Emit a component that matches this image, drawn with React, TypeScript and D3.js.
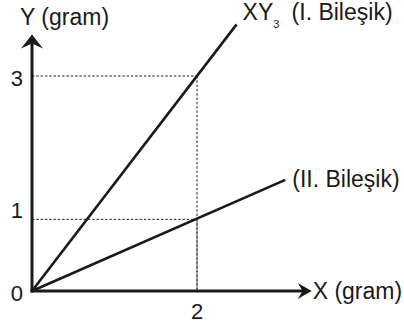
import React from "react";
import * as d3 from "d3";

// Değerler
const xTicks = [0, 2];
const yTicks = [0, 1, 3];
const compoundI = [
  { x: 0, y: 0 },
  { x: 2.48, y: 3.72 },
];
const compoundII = [
  { x: 0, y: 0 },
  { x: 3.07, y: 1.55 },
];
const guides = [
  { x: 2, y: 3 },
  { x: 2, y: 1 },
];
const axisEnd = { x: 3.39, y: 3.58 };

const width = 404;
const height = 327;
const font = "'Liberation Sans', Arial, Helvetica, sans-serif";
const ink = "#1a1a1a";

const App = () => {
  // Ölçekler
  const xScale = d3.scaleLinear().domain([0, 2]).range([32, 197]);
  const yScale = d3.scaleLinear().domain([0, 3]).range([291, 76]);

  const line = d3
    .line<{ x: number; y: number }>()
    .x((d) => xScale(d.x))
    .y((d) => yScale(d.y));

  const x0 = xScale(0);
  const y0 = yScale(0);
  const xTip = xScale(axisEnd.x);
  const yTip = yScale(axisEnd.y);

  // Ok başları
  const yArrow = `M${x0},${yTip} L${x0 + 11},${yTip + 14} L${x0},${yTip + 9} L${x0 - 11},${yTip + 14} Z`;
  const xArrow = `M${xTip},${y0} L${xTip - 14},${y0 - 8} L${xTip - 9},${y0} L${xTip - 14},${y0 + 8} Z`;

  const iEnd = compoundI[compoundI.length - 1];
  const iiEnd = compoundII[compoundII.length - 1];
  const iX = xScale(iEnd.x) + 6;
  const iY = yScale(iEnd.y) - 4;

  return (
    <svg
      width={width}
      height={height}
      style={{ position: "absolute", left: 0, top: 0, background: "#fff" }}
      fontFamily={font}
    >
      {/* Kesikli yardımcı çizgiler */}
      {guides.map((g, i) => (
        <g key={i} stroke="#222" strokeWidth={1} strokeDasharray="2.5,1.8">
          <line x1={x0} x2={xScale(g.x)} y1={yScale(g.y)} y2={yScale(g.y)} />
          <line x1={xScale(g.x)} x2={xScale(g.x)} y1={yScale(g.y)} y2={y0} />
        </g>
      ))}

      {/* Eksenler */}
      <line x1={x0} x2={x0} y1={y0 + 1.5} y2={yTip + 8} stroke={ink} strokeWidth={3} />
      <line x1={x0 - 1.5} x2={xTip - 8} y1={y0} y2={y0} stroke={ink} strokeWidth={3} />
      <path d={yArrow} fill={ink} />
      <path d={xArrow} fill={ink} />

      {/* Bileşik doğruları */}
      <path d={line(compoundI) || ""} fill="none" stroke={ink} strokeWidth={2.6} />
      <path d={line(compoundII) || ""} fill="none" stroke={ink} strokeWidth={2.6} />

      {/* Tik etiketleri */}
      {yTicks.map((t) => (
        <text
          key={"y" + t}
          x={x0 - 9}
          y={t === 0 ? y0 + 10 : t === 1 ? yScale(t) - 1 : yScale(t) + 10}
          textAnchor="end"
          fontSize={22}
          fill={ink}
        >
          {t}
        </text>
      ))}
      {xTicks
        .filter((t) => t !== 0)
        .map((t) => (
          <text key={"x" + t} x={xScale(t)} y={y0 + 28} textAnchor="middle" fontSize={22} fill={ink}>
            {t}
          </text>
        ))}

      {/* Eksen başlıkları */}
      <text x={20} y={25} fontSize={23} fill={ink}>
        Y (gram)
      </text>
      <text x={xTip + 1} y={y0 + 8} fontSize={23} fill={ink}>
        X (gram)
      </text>

      {/* Doğru etiketleri */}
      <text x={iX} y={iY} fontSize={23} fill={ink}>
        XY
        <tspan fontSize={11} dy={8}>3</tspan>
        <tspan x={iX + 49} dy={-8}>(I. Bileşik)</tspan>
      </text>
      <text x={xScale(iiEnd.x) + 7} y={yScale(iiEnd.y) + 7} fontSize={23} fill={ink}>
        (II. Bileşik)
      </text>
    </svg>
  );
};

export default App;
